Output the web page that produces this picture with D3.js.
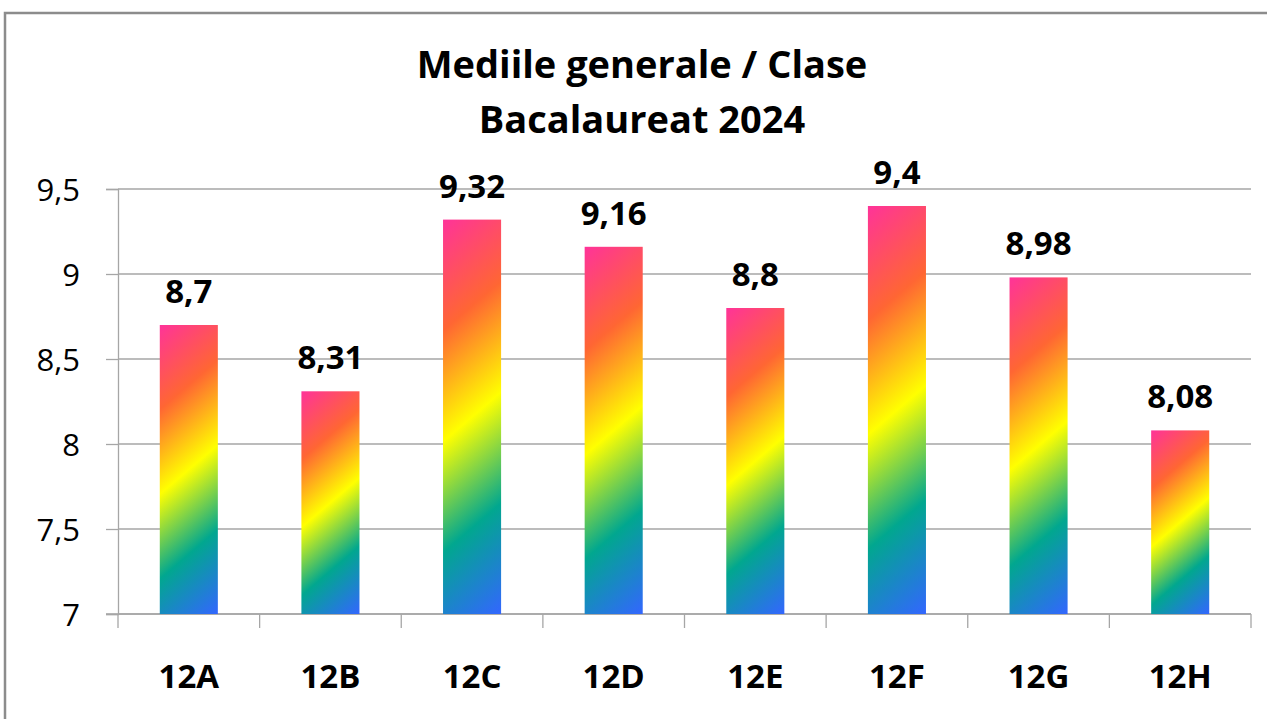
<!DOCTYPE html>
<html>
<head>
  <meta charset="UTF-8">
  <title>Mediile generale / Clase</title>
  <style>
    body{
      margin: 0;
      background: #fff;
      font-family: 'Open Sans', Lato, sans-serif;
    }
    .grid line{
      stroke: #a6a6a6;
      stroke-width: 1.3;
    }
    .axis path, .axis line{
      stroke: #a6a6a6;
      stroke-width: 1.3;
    }
    .axis text{
      font-family: 'Open Sans', sans-serif;
      fill: #000;
    }
  </style>
</head>
<body>
  <script src="https://d3js.org/d3.v7.min.js"></script>
  <script>
    var classes = ["12A", "12B", "12C", "12D", "12E", "12F", "12G", "12H"];
    var averages = [8.7, 8.31, 9.32, 9.16, 8.8, 9.4, 8.98, 8.08];
    var yTicks = [7, 7.5, 8, 8.5, 9, 9.5];
    var titleLines = ["Mediile generale / Clase", "Bacalaureat 2024"];

    // Excel "Rainbow II" gradient stops
    var gradStops = [
      {offset: 0, color: "#ff3399"},
      {offset: 0.25, color: "#ff6633"},
      {offset: 0.5, color: "#ffff00"},
      {offset: 0.75, color: "#01a78f"},
      {offset: 1, color: "#3366ff"}
    ];

    var width = 1267, height = 719;
    var plotLeft = 118, plotRight = 1251, plotTop = 189, plotBottom = 614;

    var comma = function(v) { return String(v).replace(".", ","); };

    var svg = d3.select("body").append("svg")
        .attr("width", width)
        .attr("height", height);

    // chart border (only left and top visible)
    svg.append("path")
        .attr("d", "M5," + height + "V13H" + width)
        .attr("fill", "none")
        .attr("stroke", "#8c8c8c")
        .attr("stroke-width", 2.5);

    var x = d3.scaleBand()
        .domain(classes)
        .range([plotLeft, plotRight])
        .paddingInner(0.59)
        .paddingOuter(0.295);

    var y = d3.scaleLinear()
        .domain([7, 9.5])
        .range([plotBottom, plotTop]);

    // title
    svg.append("g").selectAll("text")
        .data(titleLines)
        .enter().append("text")
          .attr("x", 642)
          .attr("y", function(d, i) { return 78 + 55*i; })
          .attr("text-anchor", "middle")
          .attr("font-size", 38)
          .attr("font-weight", "bold")
          .text(function(d) { return d; });

    // gridlines
    svg.append("g")
        .attr("class", "grid")
        .selectAll("line")
        .data(yTicks)
        .enter().append("line")
          .attr("x1", plotLeft)
          .attr("x2", plotRight)
          .attr("y1", function(d) { return y(d); })
          .attr("y2", function(d) { return y(d); });

    // y axis
    var yAxis = svg.append("g")
        .attr("class", "axis")
        .attr("transform", "translate(" + plotLeft + ",0)")
        .call(d3.axisLeft(y).tickValues(yTicks).tickSize(12).tickPadding(26).tickFormat(comma));
    yAxis.selectAll("text").attr("font-size", 31).attr("dy", "0.36em").attr("fill", "#1a1a1a");

    // x axis baseline with ticks at band boundaries
    var step = x.step();
    var bounds = classes.map(function(d) { return x(d) + x.bandwidth()/2 - step/2; });
    bounds.push(plotRight);

    var xAxis = svg.append("g").attr("class", "axis");
    xAxis.append("line")
        .attr("x1", plotLeft - 12)
        .attr("x2", plotRight)
        .attr("y1", plotBottom)
        .attr("y2", plotBottom);
    xAxis.selectAll("line.tick")
        .data(bounds)
        .enter().append("line")
          .attr("class", "tick")
          .attr("x1", function(d) { return d; })
          .attr("x2", function(d) { return d; })
          .attr("y1", plotBottom)
          .attr("y2", plotBottom + 14);
    xAxis.selectAll("text")
        .data(classes)
        .enter().append("text")
          .attr("x", function(d) { return x(d) + x.bandwidth()/2; })
          .attr("y", 688)
          .attr("text-anchor", "middle")
          .attr("font-size", 33)
          .attr("font-weight", "bold")
          .text(function(d) { return d; });

    // gradients, one per bar (diagonal stripes)
    var defs = svg.append("defs");
    var data = classes.map(function(c, i) { return {id: c, value: averages[i]}; });

    data.forEach(function(d, i) {
      var bx = x(d.id), by = y(d.value), w = x.bandwidth(), h = plotBottom - by;
      var dx = 0.65, dy = 0.76;
      var len = dx*w + dy*h;
      var g = defs.append("linearGradient")
          .attr("id", "grad" + i)
          .attr("gradientUnits", "userSpaceOnUse")
          .attr("x1", bx).attr("y1", by)
          .attr("x2", bx + dx*len).attr("y2", by + dy*len);
      g.selectAll("stop")
        .data(gradStops)
        .enter().append("stop")
          .attr("offset", function(s) { return s.offset; })
          .attr("stop-color", function(s) { return s.color; });
    });

    var bars = svg.append("g").attr("class", "bars");
    bars.selectAll("rect")
        .data(data)
        .enter().append("rect")
          .attr("x", function(d) { return x(d.id); })
          .attr("y", function(d) { return y(d.value); })
          .attr("width", x.bandwidth())
          .attr("height", function(d) { return plotBottom - y(d.value); })
          .attr("fill", function(d, i) { return "url(#grad" + i + ")"; });

    bars.selectAll("text")
        .data(data)
        .enter().append("text")
          .attr("x", function(d) { return x(d.id) + x.bandwidth()/2; })
          .attr("y", function(d) { return y(d.value) - 22; })
          .attr("text-anchor", "middle")
          .attr("font-size", 33)
          .attr("font-weight", "bold")
          .text(function(d) { return comma(d.value); });
  </script>
</body>
</html>
